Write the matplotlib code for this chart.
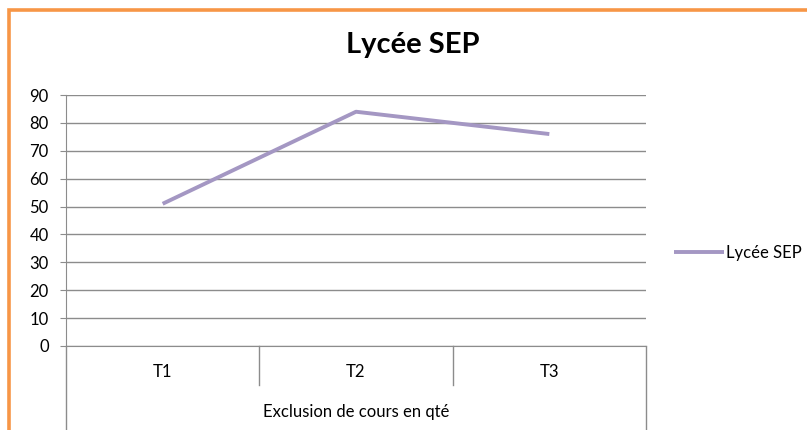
import matplotlib
matplotlib.use('Agg')
import matplotlib.pyplot as plt
import matplotlib.patches as mpatches

######data#############################################################
categories = ['T1', 'T2', 'T3']
values = [51, 84, 76]
series_name = 'Lycée SEP'
title = 'Lycée SEP'
outer_label = 'Exclusion de cours en qté'
yticks = [0, 10, 20, 30, 40, 50, 60, 70, 80, 90]

plt.rcParams['font.family'] = ['Lato', 'DejaVu Sans']

fig = plt.figure(figsize=(8.07, 4.30), dpi=100)
fig.patch.set_facecolor('white')

# orange frame of the chart area (runs off right and bottom edge)
frame = mpatches.Rectangle((8.5 / 807, -0.1), 1.2, 1 - 9.5 / 430 + 0.1,
                           transform=fig.transFigure, fill=False,
                           edgecolor='#F79646', linewidth=2.6)
fig.patches.append(frame)

ax = fig.add_axes([66 / 807, 1 - 346 / 430, (646 - 66) / 807, (346 - 95) / 430])

x = list(range(len(categories)))
ax.plot(x, values, color='#A497C3', linewidth=2.8, label=series_name,
        solid_capstyle='butt')

ax.set_xlim(-0.5, len(categories) - 0.5)
ax.set_ylim(0, 90)
ax.set_yticks(yticks)
ax.yaxis.grid(True, color='#8C8C8C', linewidth=1)
ax.set_axisbelow(True)

for s in ['top', 'right']:
    ax.spines[s].set_visible(False)
ax.spines['left'].set_color('#8C8C8C')
ax.spines['bottom'].set_color('#8C8C8C')

ax.tick_params(axis='y', length=4.5, color='#8C8C8C', pad=8, labelsize=12)
ax.set_xticks(x)
ax.set_xticklabels(categories)
ax.tick_params(axis='x', length=0, pad=13, labelsize=12)

# category separators and outer level lines
tr = ax.get_xaxis_transform()
for b in [0.5, 1.5]:
    ax.plot([b, b], [0, -39 / 251], color='#8C8C8C', linewidth=1,
            transform=tr, clip_on=False)
for b in [-0.5, len(categories) - 0.5]:
    ax.plot([b, b], [0, -90 / 251], color='#8C8C8C', linewidth=1,
            transform=tr, clip_on=False)

ax.text(1, -66 / 251, outer_label, transform=tr, ha='center', va='center',
        fontsize=12)

fig.text(413 / 807, 1 - 45 / 430, title, ha='center', va='center',
         fontsize=21, fontweight='bold')

fig.legend(loc='center left', bbox_to_anchor=(674 / 807, 1 - 253 / 430),
           frameon=False, fontsize=12, handlelength=3.0, handletextpad=0.1,
           borderpad=0, borderaxespad=0)

fig.savefig('out.png', dpi=100)
